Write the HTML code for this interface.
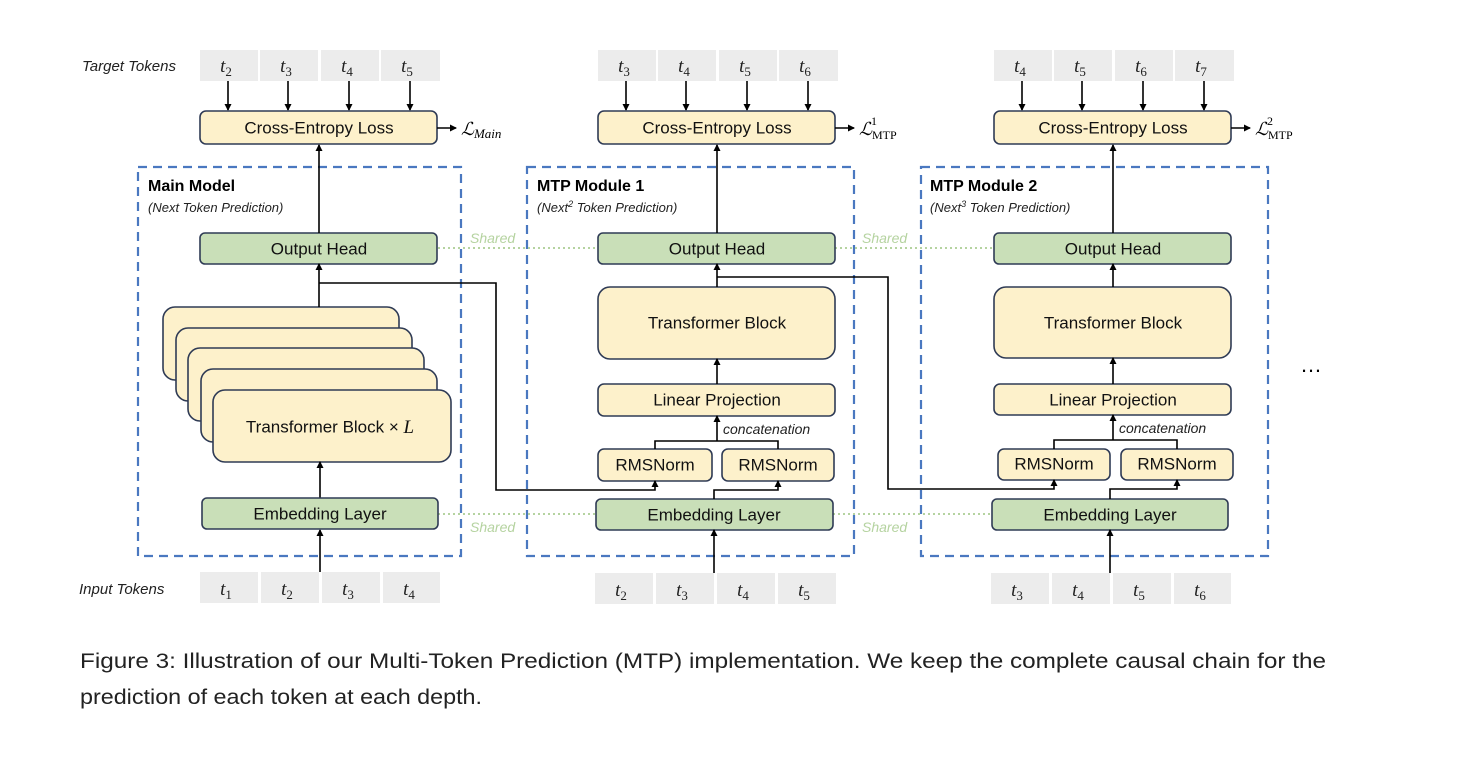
<!DOCTYPE html>
<html><head><meta charset="utf-8"><style>
html,body{margin:0;padding:0;background:#fff;}
svg{display:block;font-family:"Liberation Sans",sans-serif;}
.y{fill:#fdf1cb;stroke:#2f3b55;stroke-width:1.6;}
.g{fill:#c9dfb8;stroke:#2f3b55;stroke-width:1.6;}
.tk{fill:#ececec;}
.lab{font-size:17px;fill:#111;text-anchor:middle;dominant-baseline:central;}
.t{font-family:"Liberation Serif",serif;font-style:italic;font-size:19px;fill:#222;text-anchor:middle;}
.ln{stroke:#000;stroke-width:1.6;fill:none;}
.dash{fill:none;stroke:#4a78c0;stroke-width:2.2;stroke-dasharray:9 6;}
.sh{stroke:#b5d3a0;stroke-width:2;stroke-dasharray:2 3;}
.shl{font-size:14px;font-style:italic;fill:#b5d3a0;}
.it{font-size:14px;font-style:italic;fill:#222;}
</style></head><body>
<svg width="1466" height="770" viewBox="0 0 1466 770">
<defs><marker id="a" markerWidth="8" markerHeight="8" refX="6" refY="4" orient="auto" markerUnits="userSpaceOnUse"><path d="M0,0.5 L7,4 L0,7.5z" fill="#000"/></marker></defs>

<!-- dashed boxes -->
<rect class="dash" x="138" y="167" width="323" height="389"/>
<rect class="dash" x="527" y="167" width="327" height="389"/>
<rect class="dash" x="921" y="167" width="347" height="389"/>

<!-- shared lines -->
<line class="sh" x1="438" y1="248" x2="598" y2="248"/>
<line class="sh" x1="835" y1="248" x2="994" y2="248"/>
<line class="sh" x1="438" y1="514" x2="596" y2="514"/>
<line class="sh" x1="833" y1="514" x2="992" y2="514"/>
<text class="shl" x="470" y="243">Shared</text>
<text class="shl" x="862" y="243">Shared</text>
<text class="shl" x="470" y="532">Shared</text>
<text class="shl" x="862" y="532">Shared</text>

<!-- labels -->
<text class="it" x="82" y="71" style="font-size:15px">Target Tokens</text>
<text class="it" x="79" y="594" style="font-size:15px">Input Tokens</text>
<text x="148" y="191" style="font-size:16px;font-weight:bold">Main Model</text>
<text class="it" x="148" y="212" style="font-size:13px">(Next Token Prediction)</text>
<text x="537" y="191" style="font-size:16px;font-weight:bold">MTP Module 1</text>
<text class="it" x="537" y="212" style="font-size:13px">(Next<tspan dy="-5" font-size="9">2</tspan><tspan dy="5"> Token Prediction)</tspan></text>
<text x="930" y="191" style="font-size:16px;font-weight:bold">MTP Module 2</text>
<text class="it" x="930" y="212" style="font-size:13px">(Next<tspan dy="-5" font-size="9">3</tspan><tspan dy="5"> Token Prediction)</tspan></text>

<!-- target tokens -->
<g>
<rect class="tk" x="200" y="50" width="58" height="31"/><rect class="tk" x="260" y="50" width="58" height="31"/><rect class="tk" x="321" y="50" width="58" height="31"/><rect class="tk" x="381" y="50" width="59" height="31"/>
<text class="t" x="226" y="72">t<tspan font-size="13" font-style="normal" dy="4">2</tspan></text>
<text class="t" x="286" y="72">t<tspan font-size="13" font-style="normal" dy="4">3</tspan></text>
<text class="t" x="347" y="72">t<tspan font-size="13" font-style="normal" dy="4">4</tspan></text>
<text class="t" x="407" y="72">t<tspan font-size="13" font-style="normal" dy="4">5</tspan></text>
<rect class="tk" x="598" y="50" width="58" height="31"/><rect class="tk" x="658" y="50" width="58" height="31"/><rect class="tk" x="719" y="50" width="58" height="31"/><rect class="tk" x="779" y="50" width="59" height="31"/>
<text class="t" x="624" y="72">t<tspan font-size="13" font-style="normal" dy="4">3</tspan></text>
<text class="t" x="684" y="72">t<tspan font-size="13" font-style="normal" dy="4">4</tspan></text>
<text class="t" x="745" y="72">t<tspan font-size="13" font-style="normal" dy="4">5</tspan></text>
<text class="t" x="805" y="72">t<tspan font-size="13" font-style="normal" dy="4">6</tspan></text>
<rect class="tk" x="994" y="50" width="58" height="31"/><rect class="tk" x="1054" y="50" width="58" height="31"/><rect class="tk" x="1115" y="50" width="58" height="31"/><rect class="tk" x="1175" y="50" width="59" height="31"/>
<text class="t" x="1020" y="72">t<tspan font-size="13" font-style="normal" dy="4">4</tspan></text>
<text class="t" x="1080" y="72">t<tspan font-size="13" font-style="normal" dy="4">5</tspan></text>
<text class="t" x="1141" y="72">t<tspan font-size="13" font-style="normal" dy="4">6</tspan></text>
<text class="t" x="1201" y="72">t<tspan font-size="13" font-style="normal" dy="4">7</tspan></text>
</g>
<!-- target arrows -->
<g class="ln" marker-end="url(#a)">
<line x1="228" y1="81" x2="228" y2="110"/><line x1="288" y1="81" x2="288" y2="110"/><line x1="349" y1="81" x2="349" y2="110"/><line x1="410" y1="81" x2="410" y2="110"/>
<line x1="626" y1="81" x2="626" y2="110"/><line x1="686" y1="81" x2="686" y2="110"/><line x1="747" y1="81" x2="747" y2="110"/><line x1="808" y1="81" x2="808" y2="110"/>
<line x1="1022" y1="81" x2="1022" y2="110"/><line x1="1082" y1="81" x2="1082" y2="110"/><line x1="1143" y1="81" x2="1143" y2="110"/><line x1="1204" y1="81" x2="1204" y2="110"/>
</g>

<!-- CE boxes -->
<rect class="y" x="200" y="111" width="237" height="33" rx="6"/><text class="lab" x="319" y="128">Cross-Entropy Loss</text>
<rect class="y" x="598" y="111" width="237" height="33" rx="6"/><text class="lab" x="717" y="128">Cross-Entropy Loss</text>
<rect class="y" x="994" y="111" width="237" height="33" rx="6"/><text class="lab" x="1113" y="128">Cross-Entropy Loss</text>
<g class="ln" marker-end="url(#a)">
<line x1="437" y1="128" x2="456" y2="128"/><line x1="835" y1="128" x2="854" y2="128"/><line x1="1231" y1="128" x2="1250" y2="128"/>
</g>
<text x="461" y="135" style="font-family:'Liberation Serif',serif;font-style:italic;font-size:18px">ℒ<tspan font-size="13" dy="3">Main</tspan></text>
<text x="859" y="135" style="font-family:'Liberation Serif',serif;font-style:italic;font-size:18px">ℒ<tspan font-size="12" font-style="normal" dy="4">MTP</tspan></text>
<text x="871" y="125" style="font-family:'Liberation Serif',serif;font-size:12px">1</text>
<text x="1255" y="135" style="font-family:'Liberation Serif',serif;font-style:italic;font-size:18px">ℒ<tspan font-size="12" font-style="normal" dy="4">MTP</tspan></text>
<text x="1267" y="125" style="font-family:'Liberation Serif',serif;font-size:12px">2</text>

<!-- output heads -->
<rect class="g" x="200" y="233" width="237" height="31" rx="5"/><text class="lab" x="319" y="249">Output Head</text>
<rect class="g" x="598" y="233" width="237" height="31" rx="5"/><text class="lab" x="717" y="249">Output Head</text>
<rect class="g" x="994" y="233" width="237" height="31" rx="5"/><text class="lab" x="1113" y="249">Output Head</text>
<g class="ln" marker-end="url(#a)">
<line x1="319" y1="233" x2="319" y2="145"/><line x1="717" y1="233" x2="717" y2="145"/><line x1="1113" y1="233" x2="1113" y2="145"/>
</g>

<!-- main stack -->
<rect class="y" x="163" y="307" width="236" height="73" rx="12"/>
<rect class="y" x="176" y="328" width="236" height="73" rx="12"/>
<rect class="y" x="188" y="348" width="236" height="73" rx="12"/>
<rect class="y" x="201" y="369" width="236" height="73" rx="12"/>
<rect class="y" x="213" y="390" width="238" height="72" rx="12"/>
<text class="lab" x="330" y="427">Transformer Block × <tspan style="font-family:'Liberation Serif',serif;font-style:italic;font-size:19px">L</tspan></text>
<g class="ln" marker-end="url(#a)">
<line x1="319" y1="307" x2="319" y2="264"/>
<line x1="320" y1="498" x2="320" y2="462"/>
<line x1="320" y1="572" x2="320" y2="530"/>
</g>
<rect class="g" x="202" y="498" width="236" height="31" rx="5"/><text class="lab" x="320" y="514">Embedding Layer</text>

<!-- MTP modules -->
<rect class="y" x="598" y="287" width="237" height="72" rx="12"/><text class="lab" x="717" y="323">Transformer Block</text>
<rect class="y" x="598" y="384" width="237" height="32" rx="6"/><text class="lab" x="717" y="400">Linear Projection</text>
<rect class="y" x="598" y="449" width="114" height="32" rx="6"/><text class="lab" x="655" y="465">RMSNorm</text>
<rect class="y" x="722" y="449" width="112" height="32" rx="6"/><text class="lab" x="778" y="465">RMSNorm</text>
<rect class="g" x="596" y="499" width="237" height="31" rx="5"/><text class="lab" x="714" y="515">Embedding Layer</text>
<text class="it" x="723" y="434">concatenation</text>

<rect class="y" x="994" y="287" width="237" height="71" rx="12"/><text class="lab" x="1113" y="323">Transformer Block</text>
<rect class="y" x="994" y="384" width="237" height="31" rx="6"/><text class="lab" x="1113" y="400">Linear Projection</text>
<rect class="y" x="998" y="449" width="112" height="31" rx="6"/><text class="lab" x="1054" y="464">RMSNorm</text>
<rect class="y" x="1121" y="449" width="112" height="31" rx="6"/><text class="lab" x="1177" y="464">RMSNorm</text>
<rect class="g" x="992" y="499" width="236" height="31" rx="5"/><text class="lab" x="1110" y="515">Embedding Layer</text>
<text class="it" x="1119" y="433">concatenation</text>

<g class="ln" marker-end="url(#a)">
<line x1="717" y1="287" x2="717" y2="264"/><line x1="717" y1="384" x2="717" y2="359"/>
<polyline points="655,449 655,441 778,441 778,449" marker-end="none"/>
<line x1="717" y1="441" x2="717" y2="416"/>
<polyline points="714,499 714,490 778,490 778,481"/>
<line x1="714" y1="573" x2="714" y2="530"/>
<polyline points="319,283 496,283 496,490 655,490 655,481"/>

<line x1="1113" y1="287" x2="1113" y2="264"/><line x1="1113" y1="384" x2="1113" y2="358"/>
<polyline points="1054,449 1054,440 1177,440 1177,449" marker-end="none"/>
<line x1="1113" y1="440" x2="1113" y2="415"/>
<polyline points="1110,499 1110,489 1177,489 1177,480"/>
<line x1="1110" y1="573" x2="1110" y2="530"/>
<polyline points="717,277 888,277 888,489 1054,489 1054,480"/>
</g>

<text x="1300" y="372" style="font-size:22px">…</text>

<!-- input tokens -->
<rect class="tk" x="200" y="572" width="58" height="31"/><rect class="tk" x="261" y="572" width="58" height="31"/><rect class="tk" x="322" y="572" width="58" height="31"/><rect class="tk" x="383" y="572" width="57" height="31"/>
<text class="t" x="226" y="595">t<tspan font-size="13" font-style="normal" dy="4">1</tspan></text>
<text class="t" x="287" y="595">t<tspan font-size="13" font-style="normal" dy="4">2</tspan></text>
<text class="t" x="348" y="595">t<tspan font-size="13" font-style="normal" dy="4">3</tspan></text>
<text class="t" x="409" y="595">t<tspan font-size="13" font-style="normal" dy="4">4</tspan></text>
<rect class="tk" x="595" y="573" width="58" height="31"/><rect class="tk" x="656" y="573" width="58" height="31"/><rect class="tk" x="717" y="573" width="58" height="31"/><rect class="tk" x="778" y="573" width="58" height="31"/>
<text class="t" x="621" y="596">t<tspan font-size="13" font-style="normal" dy="4">2</tspan></text>
<text class="t" x="682" y="596">t<tspan font-size="13" font-style="normal" dy="4">3</tspan></text>
<text class="t" x="743" y="596">t<tspan font-size="13" font-style="normal" dy="4">4</tspan></text>
<text class="t" x="804" y="596">t<tspan font-size="13" font-style="normal" dy="4">5</tspan></text>
<rect class="tk" x="991" y="573" width="58" height="31"/><rect class="tk" x="1052" y="573" width="58" height="31"/><rect class="tk" x="1113" y="573" width="58" height="31"/><rect class="tk" x="1174" y="573" width="57" height="31"/>
<text class="t" x="1017" y="596">t<tspan font-size="13" font-style="normal" dy="4">3</tspan></text>
<text class="t" x="1078" y="596">t<tspan font-size="13" font-style="normal" dy="4">4</tspan></text>
<text class="t" x="1139" y="596">t<tspan font-size="13" font-style="normal" dy="4">5</tspan></text>
<text class="t" x="1200" y="596">t<tspan font-size="13" font-style="normal" dy="4">6</tspan></text>

<!-- caption -->
<text x="80" y="668" style="font-size:21px;fill:#222" textLength="1246" lengthAdjust="spacingAndGlyphs">Figure 3:  Illustration of our Multi-Token Prediction (MTP) implementation. We keep the complete causal chain for the</text>
<text x="80" y="704" style="font-size:21px;fill:#222" textLength="402" lengthAdjust="spacingAndGlyphs">prediction of each token at each depth.</text>
</svg>
</body></html>
